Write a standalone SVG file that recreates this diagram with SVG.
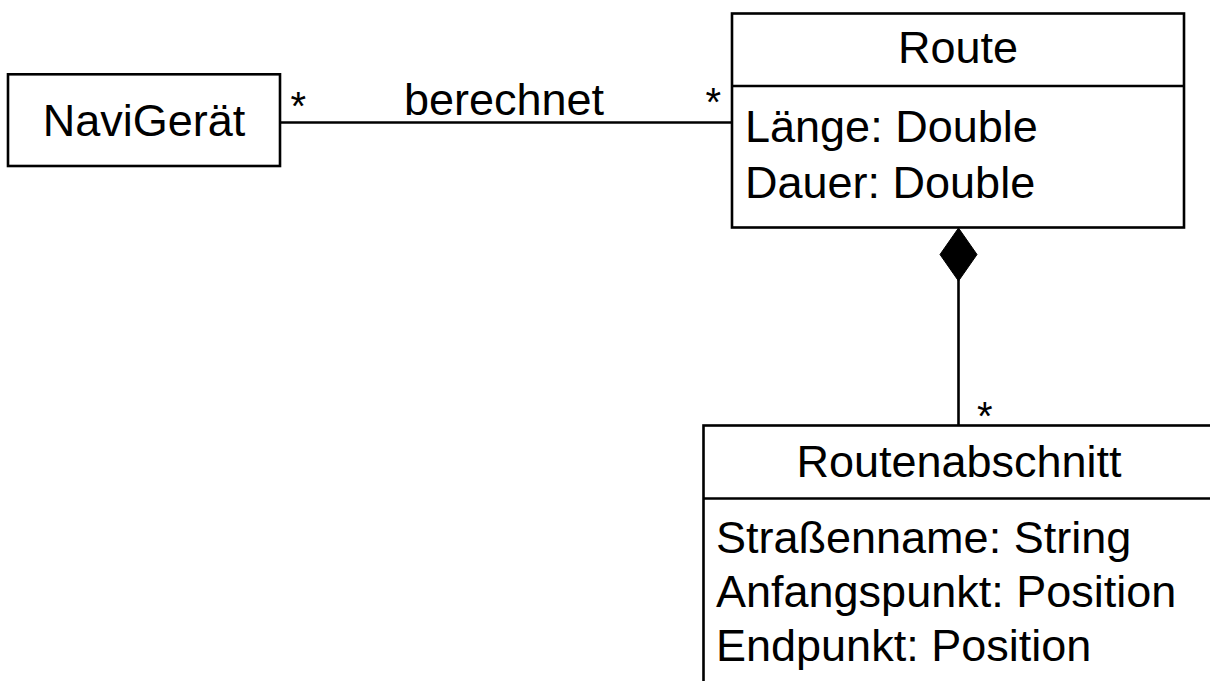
<svg xmlns="http://www.w3.org/2000/svg" width="1210" height="681" viewBox="0 0 1210 681">
<style>
.box{fill:#fff;stroke:#000;stroke-width:2.6}
.ln{fill:none;stroke:#000;stroke-width:2.6}
text{font-family:"Liberation Sans",Arial,sans-serif;font-size:45px;fill:#000}
.c{text-anchor:middle}
.m{font-size:40px}
</style>
<rect width="1210" height="681" fill="#fff"/>
<g id="connectors">
<line class="ln" x1="280" y1="122.5" x2="732" y2="122.5"/>
<text class="c" x="504" y="115">berechnet</text>
<text class="m" x="290.5" y="120">*</text>
<text class="m" x="705.5" y="116">*</text>
<line class="ln" x1="958.5" y1="280" x2="958.5" y2="425.5"/>
<polygon points="958.5,228 977,254.5 958.5,281 940,254.5" fill="#000" stroke="#000" stroke-width="1"/>
<text class="m" x="977" y="430">*</text>
</g>
<g id="navigeraet">
<rect class="box" x="8" y="74.3" width="272" height="91.7"/>
<text class="c" x="144" y="136">NaviGerät</text>
</g>
<g id="route">
<rect class="box" x="732" y="13.5" width="452" height="214"/>
<line class="ln" x1="732" y1="86" x2="1184" y2="86"/>
<text class="c" x="958" y="63">Route</text>
<text x="745" y="141.7">Länge: Double</text>
<text x="745" y="198.3">Dauer: Double</text>
</g>
<g id="routenabschnitt">
<rect class="box" x="703.5" y="425.5" width="520" height="280"/>
<line class="ln" x1="703.5" y1="498.5" x2="1223.5" y2="498.5"/>
<text class="c" x="959" y="477.3">Routenabschnitt</text>
<text x="716" y="552.7">Straßenname: String</text>
<text x="716" y="606.7">Anfangspunkt: Position</text>
<text x="716" y="661">Endpunkt: Position</text>
</g>
</svg>
